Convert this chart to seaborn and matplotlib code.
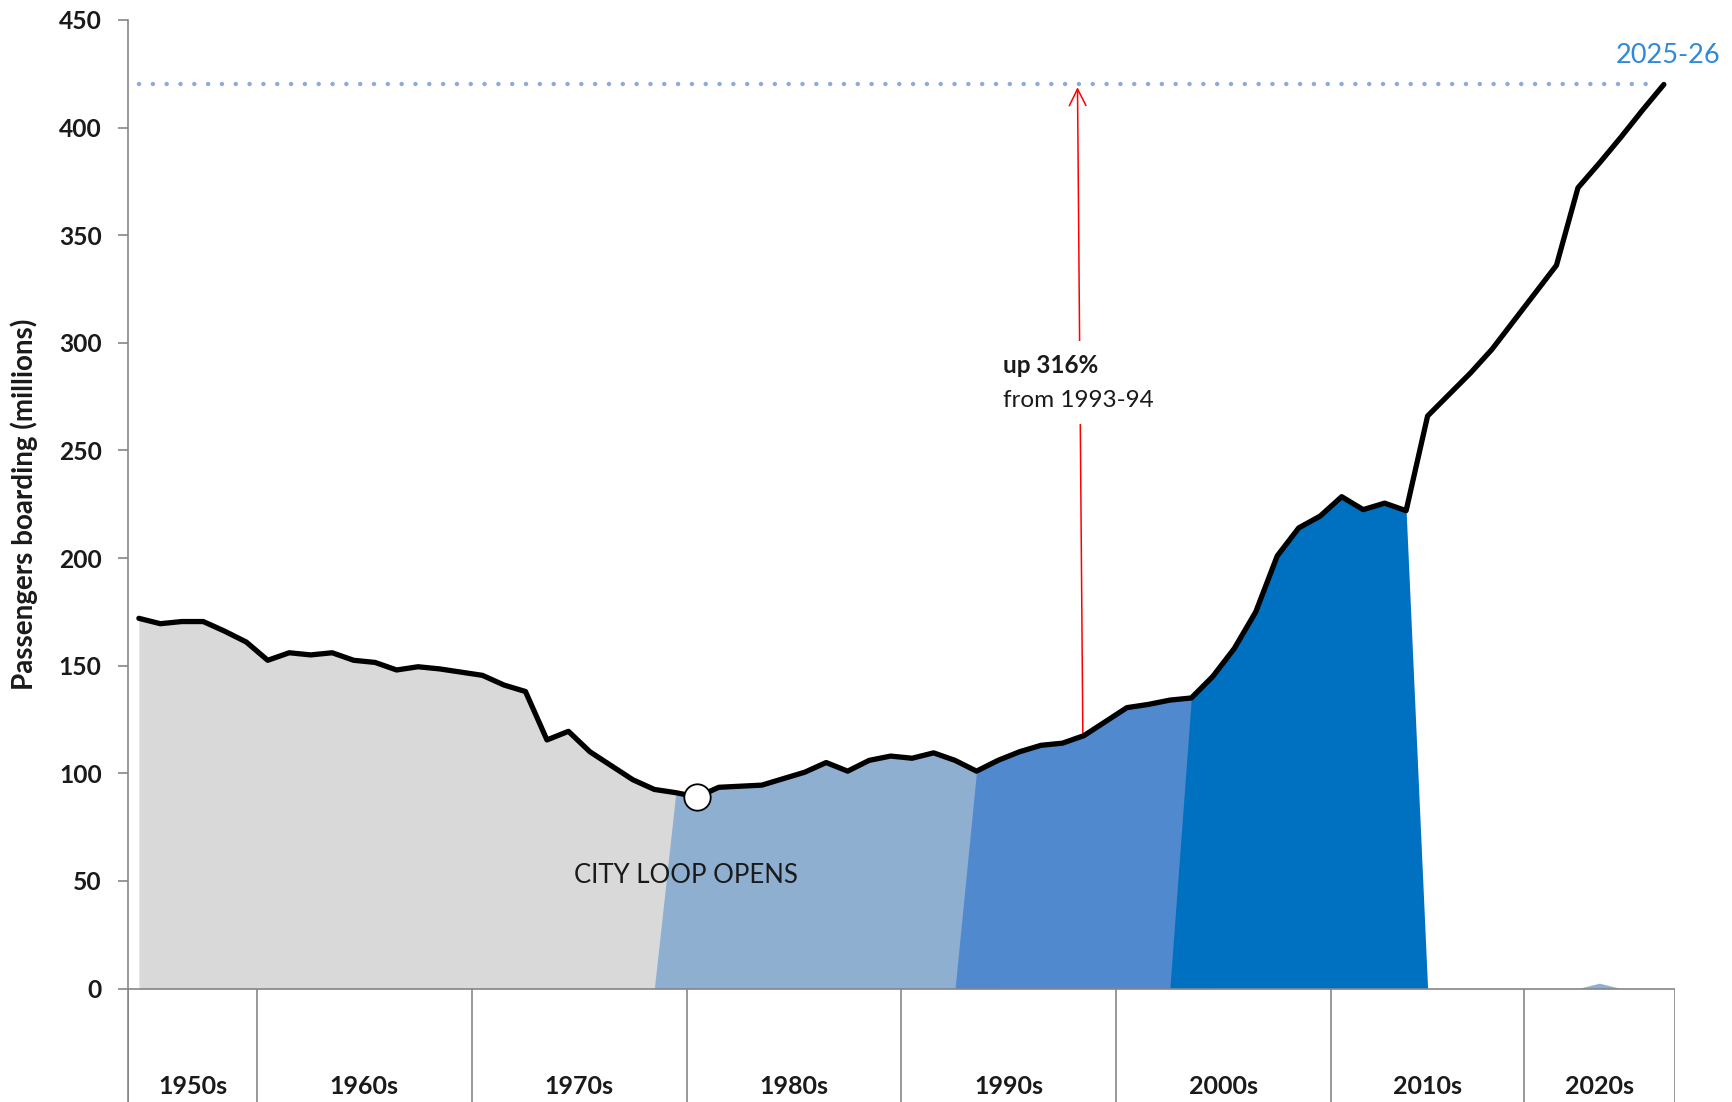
import numpy as np
import pandas as pd
import matplotlib
matplotlib.use('Agg')
import matplotlib.pyplot as plt
import seaborn as sns

# annual passenger boardings (millions), one value per financial year
decades = ['1950s', '1960s', '1970s', '1980s', '1990s', '2000s', '2010s', '2020s']
years_per_decade = [6, 10, 10, 10, 10, 10, 9, 7]
passengers = [172, 169.5, 170.5, 170.5, 166, 161,
              152.5, 156, 155, 156, 152.5, 151.5, 148, 149.5, 148.5, 147,
              145.5, 141, 138, 115.5, 119.5, 110, 103.5, 97, 92.5, 91,
              89, 93.5, 94, 94.5, 97.5, 100.5, 105, 101, 106, 108,
              107, 109.5, 106, 101, 106, 110, 113, 114, 117.5, 124,
              130.5, 132, 134, 135, 145, 158, 175, 201, 214, 219.5,
              228.5, 222.5, 225.5, 222, 266, 276, 286, 297, 310,
              323, 336, 372, 383.5, 395.5, 408, 420]

# shaded eras: (first index, last index, colour)
eras = [(0, 25, '#D9D9D9'),
        (25, 39, '#8FAFD1'),
        (39, 49, '#5189CE'),
        (49, 59, '#0070C0')]
bump_idx = 68
bump_val = 2.5

loop_idx = 26            # City Loop opens (1980-81)
base_label = '1993-94'
pct_up = 316

df = pd.DataFrame({'idx': np.arange(len(passengers)), 'passengers': passengers})

sns.set_style('white')
plt.rcParams['font.family'] = ['Lato', 'DejaVu Sans']

fig = plt.figure(figsize=(17.32, 11.02), dpi=100)
ax = fig.add_axes([0.07397, 0.0, 0.89289, 0.98194])

n = len(passengers)
ymin = -52.7
ax.set_xlim(-0.5, n - 0.5)
ax.set_ylim(ymin, 450)

# era areas (each series drops to zero on the category before / after)
for start, end, col in eras:
    xs = list(range(start, end + 1))
    ys = passengers[start:end + 1]
    if start > 0:
        xs = [start - 1] + xs
        ys = [0] + ys
    xs = xs + [end + 1]
    ys = ys + [0]
    ax.fill_between(xs, ys, 0, color=col, lw=0, zorder=1)
ax.fill_between([bump_idx - 1, bump_idx, bump_idx + 1], [0, bump_val, 0], 0,
                color='#8FAFD1', lw=0, zorder=1)

# target line
ax.hlines(passengers[-1], 0, n - 1.5, colors='#8EA9DB', lw=3.2,
          linestyles=(0, (0.01, 3.1)), zorder=2, capstyle='round')

sns.lineplot(data=df, x='idx', y='passengers', ax=ax, color='black', lw=3.8,
             zorder=3, solid_joinstyle='round', solid_capstyle='round')
ax.plot(loop_idx, passengers[loop_idx], 'o', ms=19, mfc='white', mec='black',
        mew=1.3, zorder=4)

# growth arrow
ax.annotate('', xy=(43.7, passengers[-1]), xytext=(43.95, passengers[44]),
            arrowprops=dict(arrowstyle='->', color='#FF0000', lw=1.1,
                            mutation_scale=30), zorder=2)
ax.text(40.24, 289.5, f'up {pct_up}%', fontsize=17.5, fontweight='bold',
        color='#1a1a1a', va='center', ha='left', zorder=5,
        bbox=dict(facecolor='white', edgecolor='none', pad=9))
ax.text(40.24, 273, f'from {base_label}', fontsize=17.5, color='#1a1a1a',
        va='center', ha='left', zorder=5,
        bbox=dict(facecolor='white', edgecolor='none', pad=9))

ax.text(25.48, 52.3, 'CITY LOOP OPENS', fontsize=18.5, color='#1a1a1a',
        ha='center', va='center', zorder=5)
ax.text(n - 1 + 0.2, 433.5, '2025-26', fontsize=19.5, color='#2E8AD8',
        ha='center', va='center', zorder=5)

# axes styling
for s in ['top', 'right', 'bottom']:
    ax.spines[s].set_visible(False)
ax.spines['left'].set_color('#868686')
ax.spines['left'].set_linewidth(1.2)
ax.axhline(0, color='#868686', lw=1.2, zorder=2)

ax.set_yticks(np.arange(0, 451, 50))
ax.set_yticklabels([str(v) for v in range(0, 451, 50)], fontsize=17.7,
                   fontweight='bold', color='#1a1a1a')
ax.tick_params(axis='y', direction='out', length=7, width=1.2,
               color='#868686', pad=12, left=True)
ax.set_xticks([])
ax.set_xlabel('')
ax.set_ylabel('Passengers boarding (millions)', fontsize=20,
              fontweight='bold', color='#1a1a1a')
ax.yaxis.set_label_coords(-0.058, (225 - ymin) / (450 - ymin))

# decade boxes under the axis
edges = np.concatenate([[0], np.cumsum(years_per_decade)]) - 0.5
for e in edges:
    ax.vlines(e, ymin, 0, colors='#868686', lw=1.2, zorder=2)
for i, d in enumerate(decades):
    ax.text((edges[i] + edges[i + 1]) / 2, -45.5, d, fontsize=18,
            fontweight='bold', color='#1a1a1a', ha='center', va='center')

fig.savefig('out.png', dpi=100)
